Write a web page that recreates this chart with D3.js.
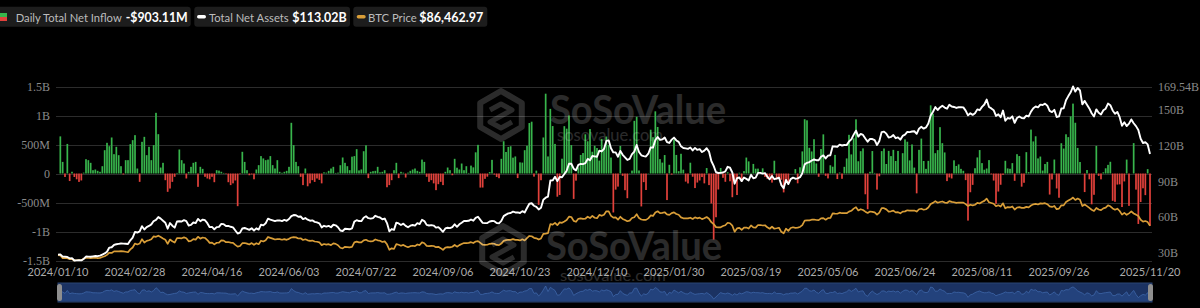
<!DOCTYPE html>
<html><head><meta charset="utf-8">
<script src="https://cdn.jsdelivr.net/npm/d3@7"></script>
<style>
html,body{margin:0;padding:0;background:#000;}
svg{display:block}
</style></head>
<body><svg id="c" width="1200" height="308"></svg>
<script>
// ---------- DATA ----------
// Daily total net inflow (US$ millions), one value per trading day 2024/01/10 .. 2025/11/20
const flows = [
0,640,200,-60,510,-130,30,-60,-100,-145,-120,15,
247,230,184,57,69,46,29,
126,402,529,471,621,333,460,316,126,-17,230,230,
506,575,661,86,-144,546,632,316,460,230,489,1046,678,103,184,
-115,-316,-259,-144,-57,10,414,230,172,-86,29,115,184,
200,-230,115,80,-57,-86,-100,-57,-150,57,50,30,
10,-10,-150,-200,-170,-120,-563,-10,374,200,57,-30,-15,-100,
69,144,300,260,230,240,300,144,86,230,29,12,29,46,115,
874,489,200,126,-57,-200,86,-220,-170,-115,-145,-86,-110,-170,
20,15,46,86,115,10,15,143,276,184,126,57,290,300,420,
53,70,384,486,-80,29,40,46,115,20,29,57,
-237,-200,-115,57,184,-80,29,15,-70,15,46,69,86,46,29,240,200,
-57,-144,-115,-170,-287,-184,-144,-200,29,103,57,-30,253,
100,69,172,57,126,10,136,106,365,494,
-243,-242,-92,-55,25,235,-18,-60,-81,253,556,371,458,470,273,294,-79,192,188,402,
479,870,893,-54,50,-541,-116,621,1376,294,1114,818,510,-400,-370,255,816,773,1000,490,-438,-123,105,320,353,676,556,766,375,479,439,223,597,428,
637,493,275,-672,-278,-226,475,-40,-288,-426,5,50,908,978,52,-568,-149,-284,5,755,626,1072,802,248,188,318,-458,150,-20,588,320,
40,340,66,-140,-171,186,-56,-251,-156,-120,-61,-170,94,-200,-516,-1138,-754,-276,95,
-74,-143,22,-134,-409,-110,-371,13,-135,41,275,209,11,165,83,
84,27,89,-60,-93,-60,-157,220,-100,-64,-109,-326,-127,-150,1,1,76,-169,107,
381,936,917,443,380,591,173,-56,422,675,-40,-85,142,117,321,
-96,17,-91,115,260,667,329,607,934,211,385,433,-358,-616,30,387,10,-278,-48,
386,431,164,390,300,408,216,389,6,350,588,548,226,501,102,-342,408,602,
216,80,218,1175,1030,350,403,799,523,363,-131,-68,-86,227,130,157,80,47,-114,-812,-323,-196,
91,277,404,179,65,86,231,-14,-122,-523,-311,-194,-23,219,88,81,179,-126,
333,301,-227,-160,368,23,757,553,642,260,292,51,163,200,-363,-103,241,-258,-418,
522,430,676,627,985,1205,875,441,198,-4,-320,60,-100,-531,-367,477,-41,-101,20,90,
149,202,-471,-488,-191,-187,-578,-137,240,-558,1,524,-278,-870,-492,-255,-373,75,-903.11
];

// Total net assets (US$ billions)
const totalNetAssets = [
28.9,29.1,27.2,
27.2,26.9,25.8,25.9,
24.0,24.1,24.2,24.1,25.3,
27.3,27.2,27.1,27.5,27.8,
27.6,28.1,29.0,29.9,31.4,
34.8,35.1,37.0,37.6,37.9,
38.2,38.1,38.0,37.8,
40.9,43.2,47.9,47.4,48.3,
52.7,49.9,51.9,52.9,54.2,
57.0,57.9,60.3,59.0,57.3,
55.6,50.6,55.3,53.1,51.5,
56.6,56.8,56.6,57.8,
56.9,53.3,53.8,55.8,55.3,
58.8,56.9,58.2,57.7,55.2,
51.9,52.1,50.1,51.9,52.1,
54.6,54.4,52.9,52.9,52.2,
51.7,49.1,46.6,47.3,50.8,
51.2,50.5,49.6,51.0,49.1,
50.9,49.9,54.0,53.4,55.1,
59.0,58.2,57.6,56.9,57.5,
57.6,57.0,57.9,57.2,
58.7,61.1,62.0,61.9,60.6,
60.8,58.6,59.5,58.1,57.3,
57.6,56.3,55.9,55.1,
51.7,53.0,52.3,52.9,51.8,
53.9,53.4,51.8,49.1,
48.7,50.6,50.4,50.1,50.8,
56.5,57.7,57.0,56.9,59.8,
61.0,59.4,59.0,59.4,61.4,
60.5,60.0,58.5,59.1,55.3,
48.4,50.3,49.6,55.7,55.0,
53.7,54.8,53.0,51.8,53.1,
53.7,53.2,55.2,54.5,58.0,
57.0,53.8,53.3,53.6,53.2,
51.5,51.9,50.1,48.0,
50.8,51.4,51.1,51.9,54.3,
52.2,54.3,55.6,57.0,57.0,
57.2,58.3,57.3,59.6,60.6,
58.0,55.5,55.3,55.4,56.6,
57.0,56.9,55.4,55.1,57.2,
61.1,62.4,63.4,63.7,64.9,
64.2,64.2,63.7,65.3,64.2,
67.9,71.5,71.9,69.8,68.9,
66.7,68.2,74.8,76.5,77.4,
90.9,91.0,94.1,90.4,93.9,
93.6,96.3,99.1,104.9,104.9,
100.8,99.4,104.0,104.8,
104.6,105.4,109.0,107.8,111.4,
111.1,110.8,115.9,115.2,117.3,
124.0,124.5,117.9,114.4,114.4,
110.8,115.7,112.4,110.3,
108.1,109.0,
113.0,115.1,120.6,114.7,112.0,
111.3,
111.0,113.3,118.6,118.4,124.8,
127.3,124.9,125.3,126.9,
123.1,122.3,125.1,126.8,124.4,
123.2,119.5,118.1,117.8,117.4,
118.5,116.1,118.2,116.5,117.1,
114.7,115.9,117.9,115.1,
107.2,103.1,97.8,97.2,97.3,
97.6,98.6,102.4,101.6,97.6,
88.2,92.8,93.4,90.4,93.4,
92.3,91.0,95.6,92.8,93.3,
97.3,97.3,96.7,97.1,94.1,
91.9,94.7,92.0,92.6,93.3,
87.1,84.5,91.4,87.9,92.1,
93.3,92.4,92.7,93.7,
96.9,104.4,105.7,106.3,107.6,
108.5,107.9,107.8,110.8,111.9,
109.4,111.7,112.0,119.5,119.4,
119.2,120.9,120.2,120.6,120.5,
123.6,125.3,129.3,132.6,127.6,
129.9,129.0,126.0,123.4,
125.7,125.6,124.7,120.6,123.9,
131.4,131.8,130.1,126.8,127.4,
128.9,126.3,127.0,125.1,
128.2,129.3,131.6,131.4,131.9,
132.1,130.0,134.3,135.8,
134.3,135.3,138.5,145.3,148.4,
152.3,149.9,152.0,153.4,151.9,
151.0,154.3,152.8,152.4,151.6,
152.2,152.2,152.1,149.4,145.4,
147.2,145.8,147.1,150.4,149.7,
152.5,154.5,158.6,152.4,151.2,
149.7,144.9,146.3,143.8,149.4,
140.9,143.2,142.7,144.6,139.1,
143.2,144.4,143.2,143.0,
145.1,144.5,148.5,151.3,152.8,
152.1,154.4,154.1,155.2,153.5,
149.1,148.1,150.0,144.0,144.5,
151.1,151.4,158.1,161.5,164.7,
169.54,165.3,168.3,166.2,154.6,
157.5,154.3,151.2,147.2,144.5,
150.4,147.6,146.2,149.6,151.0,
155.3,153.9,149.5,146.7,148.3,
143.9,136.7,139.6,136.4,138.5,
142.0,138.8,136.4,133.1,125.8,
122.3,122.9,121.1,113.02
];

// BTC price (US$ thousands)
const btcPrice = [
46.6,46.3,42.8,
43.1,42.7,41.2,41.6,
39.5,39.8,40.1,39.9,41.8,
43.3,42.9,42.6,43.1,43.2,
42.6,43.1,44.3,45.3,47.1,
50.0,49.7,51.8,52.0,51.9,
52.2,51.8,51.3,50.7,
54.5,57.1,62.5,61.2,62.4,
68.3,63.8,66.1,66.9,68.3,
72.1,71.5,73.1,71.4,69.4,
67.6,62.0,67.9,65.5,63.8,
69.9,69.9,69.5,70.8,
69.7,65.5,66.0,68.5,67.8,
71.6,69.1,70.6,70.0,67.2,
63.4,63.8,61.3,63.5,63.8,
66.8,66.4,64.3,64.5,63.8,
63.4,60.6,58.3,59.1,62.9,
63.2,62.3,61.2,63.1,60.8,
62.9,61.6,66.3,65.2,67.0,
71.4,70.1,69.1,67.9,68.5,
68.4,67.6,68.4,67.5,
68.8,70.6,71.1,70.8,69.3,
69.6,67.3,68.2,66.8,66.0,
66.5,65.2,64.9,64.1,
60.3,61.8,60.9,61.6,60.3,
62.7,62.0,60.2,56.7,
55.9,58.0,57.7,57.3,57.9,
64.1,65.0,64.1,63.9,66.7,
67.6,65.9,65.4,65.8,68.0,
66.8,66.2,64.6,65.4,61.4,
54.0,56.0,55.1,61.7,60.8,
59.4,60.6,58.7,57.5,58.9,
59.5,59.0,61.2,60.4,64.1,
62.8,59.4,59.0,59.4,59.1,
57.5,58.0,56.2,53.9,
57.0,57.6,57.3,58.1,60.5,
58.2,60.3,61.8,63.2,63.0,
63.3,64.3,63.1,65.2,65.8,
63.3,60.8,60.6,60.8,62.1,
62.3,62.2,60.6,60.3,62.4,
66.0,67.0,67.6,67.4,68.4,
67.4,67.4,66.7,68.2,66.6,
69.9,72.7,72.3,70.2,69.5,
67.8,69.4,75.6,75.9,76.5,
88.7,88.0,90.5,87.3,91.1,
90.5,92.3,94.3,98.9,98.4,
93.1,91.9,96.0,96.4,
95.9,96.0,98.8,97.0,99.9,
97.4,96.7,101.2,100.0,101.5,
106.1,106.1,100.0,97.5,97.8,
94.7,98.7,95.8,94.2,
92.6,93.4,
97.0,98.1,102.1,96.9,95.0,
94.5,
94.5,96.5,100.5,99.8,104.5,
106.1,103.7,103.9,104.8,
102.0,101.3,103.7,104.7,102.4,
101.4,97.9,96.6,96.5,96.5,
97.4,95.7,97.9,96.6,97.5,
95.5,96.6,98.3,96.1,
91.4,88.7,84.7,84.4,84.4,
86.1,87.2,90.6,89.9,86.7,
78.5,82.9,83.7,81.1,83.9,
84.1,82.7,86.9,84.2,84.0,
87.5,87.5,86.9,87.2,84.4,
82.5,85.2,82.5,83.1,83.8,
78.3,76.3,82.6,79.6,83.4,
84.5,83.6,84.0,84.9,
87.5,93.4,93.7,93.9,94.7,
95.0,94.3,94.2,96.5,96.9,
94.7,96.8,97.0,103.2,102.9,
102.8,104.2,103.5,103.8,103.5,
105.6,106.8,109.7,111.7,107.3,
108.9,107.8,105.6,103.9,
105.8,105.4,104.7,101.5,104.4,
110.3,110.3,108.7,105.7,106.1,
107.0,104.6,104.9,103.3,
105.6,106.0,107.4,107.1,107.1,
107.1,105.7,108.9,109.6,
108.2,108.9,111.3,115.9,117.5,
119.8,117.7,118.7,119.4,117.9,
117.3,119.9,118.8,118.3,117.6,
118.0,117.9,117.8,115.8,113.3,
115.0,114.1,115.0,117.5,116.7,
118.7,120.2,123.3,118.3,117.4,
116.3,113.0,114.3,112.5,116.9,
110.1,111.8,111.3,112.6,108.4,
111.2,111.7,110.7,110.7,
112.1,111.5,113.9,115.5,116.1,
115.3,116.8,116.5,117.1,115.7,
112.7,112.0,113.3,109.0,109.7,
114.3,114.1,118.6,120.6,122.3,
124.7,121.4,123.3,121.7,113.2,
115.2,113.1,110.8,108.2,106.5,
110.6,108.5,107.6,110.1,111.0,
114.1,112.9,110.0,108.3,109.6,
106.5,101.6,103.9,101.3,103.3,
105.9,103.1,101.6,99.7,94.6,
92.2,92.9,91.5,86.46297
];

// market holidays (no trading day) inside the range
const holidays = ["2024/01/15","2024/02/19","2024/03/29","2024/05/27","2024/06/19","2024/07/04",
  "2024/09/02","2024/11/28","2024/12/25","2025/01/01","2025/01/09","2025/01/20","2025/02/17",
  "2025/04/18","2025/05/26","2025/06/19","2025/07/04","2025/09/01"];

const xTickLabels = ["2024/01/10","2024/02/28","2024/04/16","2024/06/03","2024/07/22","2024/09/06",
  "2024/10/23","2024/12/10","2025/01/30","2025/03/19","2025/05/06","2025/06/24","2025/08/11",
  "2025/09/26","2025/11/20"];
const leftTickValues = [1500,1000,500,0,-500,-1000,-1500];
const leftTickLabels = ["1.5B","1B","500M","0","-500M","-1B","-1.5B"];
const rightTickValues = [169.54,150,120,90,60,30];
const rightTickLabels = ["169.54B","150B","120B","90B","60B","30B"];
const seriesNames = ["Daily Total Net Inflow","Total Net Assets","BTC Price"];
const btcAxisMax = 275; // hidden third axis top

// ---------- CATEGORIES (trading days) ----------
const fmt = d3.utcFormat("%Y/%m/%d");
const categories = [];
for (let d = new Date(Date.UTC(2024,0,10)); d <= new Date(Date.UTC(2025,10,20)); d.setUTCDate(d.getUTCDate()+1)) {
  const wd = d.getUTCDay();
  if (wd === 0 || wd === 6) continue;
  const s = fmt(d);
  if (holidays.includes(s)) continue;
  categories.push(s);
}

// ---------- LAYOUT ----------
const svg = d3.select("#c");
const L = 58, R = 1152, T = 86.5, B = 260.5;
const x = d3.scalePoint().domain(categories).range([L, 1150]);
const yFlow = d3.scaleLinear().domain([-1500,1500]).range([B, T]);
const yAssets = d3.scaleLinear().domain(d3.extent(totalNetAssets)).range([B, T]);
const yBtc = d3.scaleLinear().domain([d3.min(btcPrice), btcAxisMax]).range([B, T]);

svg.append("rect").attr("width",1200).attr("height",308).attr("fill","#000");

// gridlines
svg.append("g").selectAll("line").data(leftTickValues).join("line")
  .attr("x1", L-2).attr("x2", R)
  .attr("y1", d => Math.round(yFlow(d))+0.5).attr("y2", d => Math.round(yFlow(d))+0.5)
  .attr("stroke", "#2c2c2c").attr("stroke-width", 1);

// left axis labels
svg.append("g").selectAll("text").data(leftTickValues).join("text")
  .attr("x", 50).attr("y", d => yFlow(d)+4)
  .attr("text-anchor","end")
  .attr("font-family","'Liberation Serif', serif").attr("font-size",12)
  .attr("fill","#8a8a8a")
  .text((d,i) => leftTickLabels[i]);

// right axis labels
svg.append("g").selectAll("text").data(rightTickValues).join("text")
  .attr("x", 1158).attr("y", d => yAssets(d)+4)
  .attr("text-anchor","start")
  .attr("font-family","'Liberation Serif', serif").attr("font-size",12)
  .attr("fill","#8a8a8a")
  .text((d,i) => rightTickLabels[i]);

// bars
const bw = 1.7;
svg.append("g").selectAll("rect").data(flows).join("rect")
  .attr("x", (d,i) => x(categories[i]) - bw/2)
  .attr("width", bw)
  .attr("y", d => Math.min(yFlow(d), yFlow(0)))
  .attr("height", d => Math.abs(yFlow(d) - yFlow(0)))
  .attr("fill", d => d >= 0 ? "#38b54c" : "#e2413b");

// lines
const lineBtc = d3.line().x((d,i) => x(categories[i])).y(d => yBtc(d));
const lineAssets = d3.line().x((d,i) => x(categories[i])).y(d => yAssets(d));
svg.append("path").datum(btcPrice).attr("d", lineBtc)
  .attr("fill","none").attr("stroke","#d99e38").attr("stroke-width",1.7).attr("stroke-linejoin","round");
svg.append("path").datum(totalNetAssets).attr("d", lineAssets)
  .attr("fill","none").attr("stroke","#ffffff").attr("stroke-width",1.9).attr("stroke-linejoin","round");

// x axis labels
const xl = svg.append("g");
xTickLabels.forEach(lbl => {
  xl.append("text").attr("x", x(lbl)).attr("y", 276)
    .attr("text-anchor","middle").attr("font-family","Lato, sans-serif").attr("font-size",11)
    .attr("fill","#ababab").text(lbl);
});

// watermarks
function watermark(cx, cy, tx, ty, sx, sy, sub) {
  const g = svg.append("g").attr("opacity", 0.17).attr("pointer-events","none");
  const r = 24;
  const pts = d3.range(6).map(k => {
    const a = Math.PI/6 + k*Math.PI/3;
    return [cx + r*Math.cos(a), cy + r*Math.sin(a)];
  });
  g.append("path").attr("d", "M" + pts.map(p => p.join(",")).join("L") + "Z")
    .attr("fill","none").attr("stroke","#fff").attr("stroke-width",6).attr("stroke-linejoin","round");
  g.append("path").attr("d", `M${cx-11},${cy-5} L${cx},${cy-11} L${cx+11},${cy-5} L${cx},${cy+1} L${cx-11},${cy+7} L${cx},${cy+13} L${cx+11},${cy+7}`)
    .attr("fill","none").attr("stroke","#fff").attr("stroke-width",5).attr("stroke-linejoin","round");
  g.append("text").attr("x", tx).attr("y", ty).attr("font-family","Lato, sans-serif")
    .attr("font-weight","bold").attr("font-size",40).attr("fill","#fff")
    .attr("textLength",176).attr("lengthAdjust","spacingAndGlyphs").text("SoSoValue");
  g.append("text").attr("x", sx).attr("y", sy).attr("font-family","Lato, sans-serif")
    .attr("font-size",sub).attr("fill","#fff")
    .attr("textLength",106).attr("lengthAdjust","spacingAndGlyphs").text("sosovalue.com");
}
watermark(501, 115, 550, 124, 557, 141, 17);
watermark(503, 250, 546, 260, 560, 281, 15);

// navigator
const nav = svg.append("g");
nav.append("rect").attr("x", L).attr("y", 283).attr("width", R-L).attr("height", 19)
  .attr("fill","#1b3262").attr("stroke","#2a4473");
const yNav = d3.scaleLinear().domain(d3.extent(flows)).range([299, 286]);
nav.append("path").datum(flows)
  .attr("d", d3.area().x((d,i) => x(categories[i])).y0(301).y1(d => yNav(d)))
  .attr("fill","#23427c");
nav.append("path").datum(flows)
  .attr("d", d3.line().x((d,i) => x(categories[i])).y(d => yNav(d)))
  .attr("fill","none").attr("stroke","#3e66a8").attr("stroke-width",0.8);
[L-1, R-4].forEach(hx => {
  nav.append("rect").attr("x", hx).attr("y", 284).attr("width", 5).attr("height", 17)
    .attr("rx", 2.5).attr("fill","#8e8e8e");
});

// legend
const lg = svg.append("g").attr("font-family","Lato, sans-serif");
const fmtFlow = v => (v < 0 ? "-" : "") + "$" + d3.format(".2f")(Math.abs(v)) + "M";
const legendItems = [
  {px:-2, pw:192.7, ix:0, tx:15.7, tw:106, vx:125.7, vw:62, val: fmtFlow(flows[flows.length-1])},
  {px:194.3, pw:155.7, ix:197, tx:209, tw:79.7, vx:292.3, vw:54.4, val: "$" + d3.format(".2f")(totalNetAssets[totalNetAssets.length-1]) + "B"},
  {px:353.3, pw:134, ix:356.7, tx:368, tw:48.7, vx:419.3, vw:64, val: d3.format("$,.2f")(btcPrice[btcPrice.length-1]*1000)}
];
legendItems.forEach((it, k) => {
  lg.append("rect").attr("x", it.px).attr("y", 6.7).attr("width", it.pw).attr("height", 20)
    .attr("rx", 3).attr("fill", "#1d1d1d");
  if (k === 0) {
    lg.append("rect").attr("x", it.ix).attr("y", 13).attr("width", 7).attr("height", 4).attr("fill","#38b54c");
    lg.append("rect").attr("x", it.ix).attr("y", 17).attr("width", 7).attr("height", 4).attr("fill","#e2413b");
  } else {
    lg.append("rect").attr("x", it.ix).attr("y", 15).attr("width", 9).attr("height", 3.5).attr("rx",1.7)
      .attr("fill", k === 1 ? "#ffffff" : "#d99e38");
  }
  lg.append("text").attr("x", it.tx).attr("y", 21.5).attr("font-size", 12).attr("fill", "#bcbcbc")
    .attr("textLength", it.tw).attr("lengthAdjust","spacingAndGlyphs").text(seriesNames[k]);
  lg.append("text").attr("x", it.vx).attr("y", 22).attr("font-size", 13).attr("font-weight","bold").attr("fill", "#ffffff")
    .attr("textLength", it.vw).attr("lengthAdjust","spacingAndGlyphs").text(it.val);
});

// sanity check
if (categories.length !== flows.length || flows.length !== totalNetAssets.length || flows.length !== btcPrice.length) {
  svg.append("text").attr("x", 600).attr("y", 60).attr("fill","yellow").attr("font-size",14)
    .text(`len cat ${categories.length} flows ${flows.length} tna ${totalNetAssets.length} btc ${btcPrice.length}`);
}
</script>
</body></html>
